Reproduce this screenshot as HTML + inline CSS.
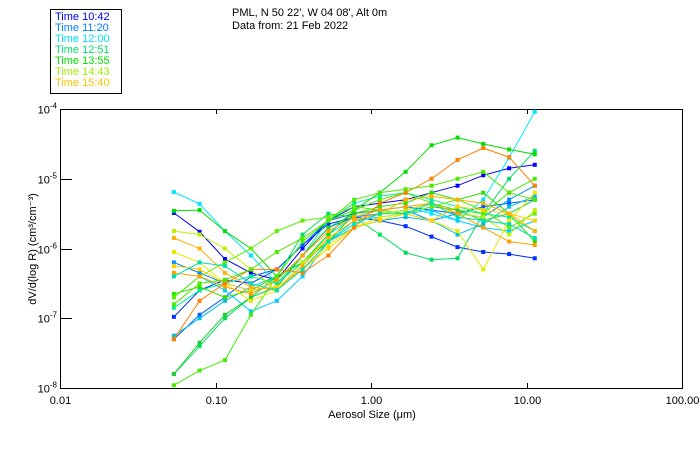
<!DOCTYPE html>
<html><head><meta charset="utf-8"><style>
html,body{margin:0;padding:0;background:#fff;}
svg{display:block;font-family:"Liberation Sans",sans-serif;}
</style></head><body>
<svg id="chart" width="700" height="450" viewBox="0 0 700 450">
  <rect x="0" y="0" width="700" height="450" fill="#fff"/>
  <g>
    <rect x="50.5" y="9.5" width="71" height="84" fill="none" stroke="#000"/>
    <text x="55" y="20" font-size="11" fill="#0000ff">Time 10:42</text>
    <text x="55" y="31" font-size="11" fill="#0080ff">Time 11:20</text>
    <text x="55" y="42" font-size="11" fill="#00e0ff">Time 12:00</text>
    <text x="55" y="53" font-size="11" fill="#00e070">Time 12:51</text>
    <text x="55" y="64" font-size="11" fill="#00e000">Time 13:55</text>
    <text x="55" y="75" font-size="11" fill="#a0f000">Time 14:43</text>
    <text x="55" y="86" font-size="11" fill="#ffc000">Time 15:40</text>
  </g>
  <text x="232" y="16" font-size="11" fill="#000">PML, N 50 22', W 04 08', Alt 0m</text>
  <text x="232" y="29" font-size="11" fill="#000">Data from: 21 Feb 2022</text>
  <g id="axes"></g>
  <g id="series"></g>
  <text x="372" y="418" font-size="11" text-anchor="middle" fill="#000">Aerosol Size (μm)</text>
  <text transform="translate(36,249) rotate(-90)" font-size="11" text-anchor="middle" fill="#000">dV/d(log R) (cm³/cm⁻³)</text>
</svg>
<script>
const sizes = [0.054,0.079,0.115,0.169,0.248,0.363,0.532,0.780,1.14,1.67,2.45,3.60,5.27,7.73,11.3];
const xTicks = [0.01,0.1,1,10,100];
const xTickLabels = ["0.01","0.10","1.00","10.00","100.00"];
const yTicks = [-4,-5,-6,-7,-8];
const yTickExps = ["-4","-5","-6","-7","-8"];
const s1 = [-5.49,-5.76,-6.15,-6.35,-6.45,-6.0,-5.6,-5.4,-5.35,-5.3,-5.2,-5.1,-4.95,-4.85,-4.8];
const s2 = [-6.98,-6.6,-6.45,-6.5,-6.3,-5.95,-5.65,-5.55,-5.6,-5.68,-5.83,-5.98,-6.05,-6.08,-6.14];
const s3 = [-7.3,-6.95,-6.7,-6.4,-6.3,-5.95,-5.6,-5.5,-5.45,-5.4,-5.45,-5.5,-5.4,-5.35,-5.3];
const s4 = [-6.2,-6.35,-6.5,-6.6,-6.55,-6.1,-5.7,-5.55,-5.5,-5.45,-5.6,-5.5,-5.55,-5.3,-5.1];
const s5 = [-5.19,-5.36,-5.75,-6.1,-6.5,-6.2,-5.8,-5.55,-5.45,-5.4,-5.5,-5.6,-5.3,-4.7,-4.04];
const s6 = [-6.7,-6.4,-6.6,-6.9,-6.75,-6.4,-5.9,-5.6,-5.55,-5.5,-5.45,-5.6,-5.7,-5.75,-5.6];
const s7 = [-7.25,-7.0,-6.75,-6.55,-6.4,-6.2,-5.9,-5.7,-5.6,-5.55,-5.6,-5.8,-5.65,-5.4,-5.25];
const s8 = [-6.85,-6.6,-6.5,-6.4,-6.5,-6.1,-5.6,-5.35,-5.25,-5.2,-5.3,-5.4,-5.5,-5.55,-5.75];
const s9 = [-7.8,-7.4,-7.0,-6.7,-6.4,-5.8,-5.5,-5.55,-5.8,-6.06,-6.16,-6.14,-5.5,-5.0,-4.6];
const s10 = [-5.46,-5.45,-5.75,-6.0,-6.4,-6.2,-5.8,-5.45,-5.2,-4.9,-4.52,-4.41,-4.5,-4.58,-4.65];
const s11 = [-6.65,-6.55,-6.7,-6.6,-6.4,-6.2,-5.9,-5.5,-5.4,-5.35,-5.2,-5.3,-5.2,-5.5,-5.9];
const s12 = [-7.96,-7.75,-7.6,-6.95,-6.4,-5.9,-5.6,-5.45,-5.3,-5.2,-5.35,-5.45,-5.5,-5.2,-5.0];
const s13 = [-7.8,-7.35,-6.95,-6.7,-6.55,-6.1,-5.7,-5.5,-5.45,-5.5,-5.4,-5.45,-5.6,-5.5,-5.3];
const s14 = [-6.7,-6.4,-6.2,-6.0,-5.75,-5.6,-5.55,-5.4,-5.45,-5.5,-5.4,-5.3,-5.45,-5.7,-5.5];
const s15 = [-5.75,-5.8,-6.0,-6.3,-6.6,-6.2,-5.85,-5.6,-5.5,-5.45,-5.35,-5.5,-5.55,-5.8,-5.45];
const s16 = [-6.05,-6.2,-6.5,-6.75,-6.6,-6.3,-5.95,-5.7,-5.55,-5.5,-5.6,-5.75,-6.3,-5.6,-5.2];
const s17 = [-6.25,-6.3,-6.5,-6.6,-6.55,-6.3,-6.0,-5.7,-5.6,-5.5,-5.6,-5.4,-5.45,-5.5,-5.6];
const s18 = [-5.85,-6.0,-6.35,-6.55,-6.6,-6.25,-5.85,-5.6,-5.5,-5.3,-5.25,-5.3,-5.35,-5.5,-5.75];
const s19 = [-7.3,-6.75,-6.5,-6.3,-6.3,-6.35,-6.1,-5.7,-5.35,-5.2,-5.0,-4.73,-4.56,-4.69,-5.1];
const s20 = [-6.35,-6.4,-6.55,-6.65,-6.45,-6.1,-5.75,-5.55,-5.45,-5.4,-5.35,-5.5,-5.7,-5.9,-5.95];
const s21 = [-6.8,-6.5,-6.45,-6.3,-6.05,-5.85,-5.6,-5.3,-5.2,-5.15,-5.1,-5.0,-4.9,-5.2,-5.3];
const s22 = [-6.4,-6.2,-6.25,-6.5,-6.6,-6.3,-5.9,-5.65,-5.5,-5.5,-5.35,-5.55,-5.6,-5.65,-5.85];
const seriesList = [s1,s2,s3,s4,s5,s6,s7,s8,s9,s10,s11,s12,s13,s14,s15,s16,s17,s18,s19,s20,s21,s22];
const colors = ["#0000ff","#0030ff","#0060ff","#0090ff","#00e8ff","#00d0ff","#00c0e0","#00f090","#00e060","#00e000","#30e000","#40f000","#20d030","#60f000","#c0f000","#e8e800","#ffd000","#ffb000","#ff8000","#ffa000","#50e800","#00e0b0"];

const X0=60, X1=682, Y0=109, Y1=388;
function xScale(v){ return X0 + (Math.log10(v) + 2) / 4 * (X1 - X0); }
function yScale(lg){ return Y0 + (-4 - lg) / 4 * (Y1 - Y0); }
const NS="http://www.w3.org/2000/svg";
const axes=document.getElementById('axes');
const sg=document.getElementById('series');
function mk(tag, attrs, parent){ const e=document.createElementNS(NS,tag); for(const k in attrs) e.setAttribute(k,attrs[k]); parent.appendChild(e); return e; }

const frame = mk('rect',{x:X0+0.5,y:Y0+0.5,width:X1-X0,height:Y1-Y0,fill:'none',stroke:'#000','stroke-width':1},axes);



xTicks.forEach((t,i)=>{
  const x=Math.round(xScale(t))+0.5;
  const tb=mk('line',{x1:x,x2:x,y1:Y1,y2:Y1-5,stroke:'#000'},axes);
  
  
  const tt=mk('line',{x1:x,x2:x,y1:Y0,y2:Y0+5,stroke:'#000'},axes);
  
  
  const lb=mk('text',{x:x,y:Y1+16,'font-size':11,'text-anchor':'middle',fill:'#000'},axes);
  lb.textContent=xTickLabels[i];
  
  
});
yTicks.forEach((t,i)=>{
  const y=Math.round(yScale(t))+0.5;
  const tk=mk('line',{x1:X0,x2:X0+12,y1:y,y2:y,stroke:'#000'},axes);
  
  
  const lb=mk('text',{x:X0-3,y:y+4,'font-size':11,'text-anchor':'end',fill:'#000'},axes);
  
  
  const b=document.createElementNS(NS,'tspan'); b.textContent='10'; lb.appendChild(b);
  const s=document.createElementNS(NS,'tspan'); s.setAttribute('dy','-5'); s.setAttribute('font-size','8'); s.textContent=yTickExps[i]; lb.appendChild(s);
});

seriesList.forEach((vals,si)=>{
  const g=mk('g',{},sg);
  
  
  const pts=vals.map((v,i)=>xScale(sizes[i]).toFixed(1)+','+yScale(v).toFixed(1)).join(' ');
  const pl=mk('polyline',{points:pts,fill:'none',stroke:colors[si],'stroke-width':1},g);
  
  
  vals.forEach((v,i)=>{
    const m=mk('rect',{x:xScale(sizes[i])-2,y:yScale(v)-2,width:4,height:4,fill:colors[si]},g);
    
    
  });
});
</script>
</body></html>
